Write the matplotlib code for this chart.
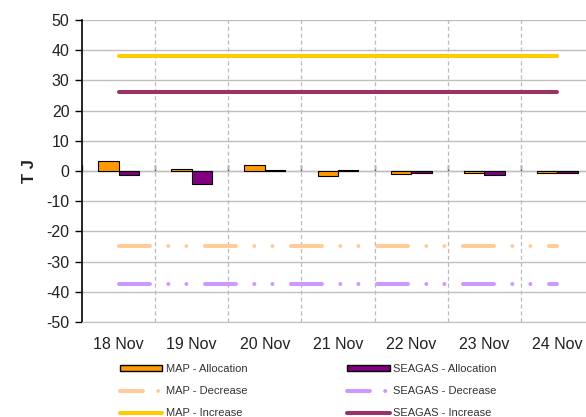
import matplotlib
matplotlib.use("Agg")
import matplotlib.pyplot as plt
import numpy as np
from matplotlib.patches import Patch
from matplotlib.lines import Line2D

plt.rcParams['font.family'] = ['Liberation Sans', 'DejaVu Sans']
plt.rcParams['lines.scale_dashes'] = False

categories = ["18 Nov", "19 Nov", "20 Nov", "21 Nov", "22 Nov", "23 Nov", "24 Nov"]
map_alloc = [3.3, 0.8, 1.9, -1.5, -1.0, -0.8, -0.8]
seagas_alloc = [-1.4, -4.2, 0.4, 0.3, -0.8, -1.4, -0.5]
map_decrease = [-25] * 7
seagas_decrease = [-37.5] * 7
map_increase = [38] * 7
seagas_increase = [26] * 7
yticks = list(range(-50, 51, 10))

fig = plt.figure(figsize=(5.86, 4.17), dpi=100)
ax = fig.add_axes([82/586, 1 - 322/417, (594-82)/586, (322-20)/417])

x = np.arange(len(categories))
w = 0.28
ax.bar(x - w, map_alloc, w, align='edge', color='#FF9900', edgecolor='black', linewidth=0.8, zorder=4)
ax.bar(x, seagas_alloc, w, align='edge', color='#800080', edgecolor='black', linewidth=0.8, zorder=4)

dash = (0, (22.3, 13.2, 0.01, 13.0, 0.01, 13.4))
lw = 2.9
ax.plot(x, map_decrease, color='#FFCC99', lw=lw, linestyle=dash, dash_capstyle='round', zorder=3)
ax.plot(x, seagas_decrease, color='#CC99FF', lw=lw, linestyle=dash, dash_capstyle='round', zorder=3)
ax.plot(x, map_increase, color='#FFCC00', lw=lw, solid_capstyle='round', zorder=3)
ax.plot(x, seagas_increase, color='#993366', lw=lw, solid_capstyle='round', zorder=3)

ax.set_xlim(-0.5, len(categories) - 0.5)
ax.set_ylim(-50, 50)
ax.set_yticks(yticks)
ax.set_yticklabels([str(v) for v in yticks], fontsize=11.5, color='#222222')
ax.tick_params(axis='y', direction='out', length=5, width=1, color='black', pad=4)

ax.set_xticks(x)
ax.set_xticklabels(categories, fontsize=11.5, color='#222222')
ax.tick_params(axis='x', length=0, pad=11)

# gridlines
for v in yticks:
    ax.axhline(v, color='#C0C0C0', lw=1, zorder=1)
for b in np.arange(0.5, len(categories) - 0.5, 1):
    ax.axvline(b, color='#BBBBBB', lw=0.9, ls=(0, (3, 2)), zorder=1)

# zero axis with boundary ticks
sec = ax.secondary_xaxis(0.5)
sec.set_xticks(np.arange(-0.5, len(categories), 1))
sec.set_xticklabels([])
sec.tick_params(direction='out', length=4, width=1, color='#333333')
sec.spines['bottom'].set_color('#777777')
sec.spines['bottom'].set_linewidth(1.2)

for s in ['top', 'right']:
    ax.spines[s].set_visible(False)
ax.spines['bottom'].set_color('#C0C0C0')
ax.spines['left'].set_color('black')
ax.spines['left'].set_linewidth(1.2)

fig.text(30/586, 1 - 171/417, "T J", rotation=90, fontsize=12, fontweight='bold',
         ha='center', va='center', color='#222222')

leg_dash = (0, (16.5, 11.0, 0.01, 20.0))
handles = [
    Patch(facecolor='#FF9900', edgecolor='black', linewidth=1),
    Line2D([], [], color='#FFCC99', lw=lw, linestyle=leg_dash, dash_capstyle='round'),
    Line2D([], [], color='#FFCC00', lw=lw, solid_capstyle='round'),
    Patch(facecolor='#800080', edgecolor='black', linewidth=1),
    Line2D([], [], color='#CC99FF', lw=lw, linestyle=leg_dash, dash_capstyle='round'),
    Line2D([], [], color='#993366', lw=lw, solid_capstyle='round'),
]
labels = ["MAP - Allocation", "MAP - Decrease", "MAP - Increase",
          "SEAGAS - Allocation", "SEAGAS - Decrease", "SEAGAS - Increase"]
leg = fig.legend(handles, labels, ncol=2, loc='center', bbox_to_anchor=(0.526, 1 - 391/417),
                 frameon=False, fontsize=8, handlelength=3.8, handleheight=0.45,
                 handletextpad=0.3, columnspacing=9.0, labelspacing=1.08, borderpad=0)
for t in leg.get_texts():
    t.set_color('#333333')

fig.savefig("out.png", dpi=100)
